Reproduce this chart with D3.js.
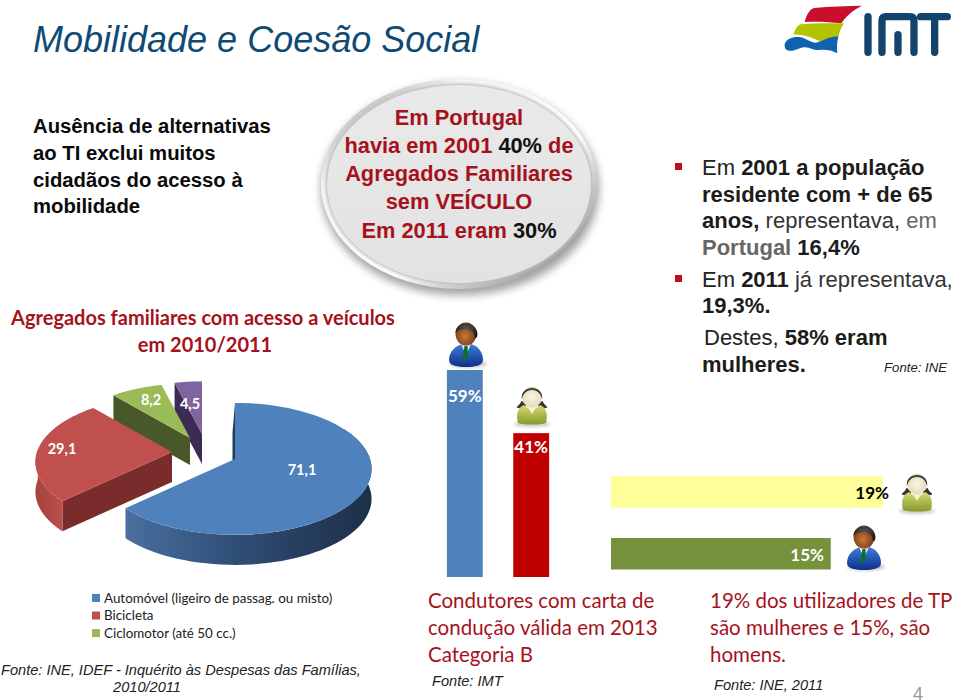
<!DOCTYPE html>
<html><head><meta charset="utf-8">
<script src="https://cdn.jsdelivr.net/npm/d3@7/dist/d3.min.js"></script>
<style>html,body{margin:0;padding:0;background:#fff}svg{display:block}text{white-space:pre}</style>
</head><body><svg id="c" width="960" height="700"></svg>
<script>
// ---- data ----
const pieCategories = ["Automóvel (ligeiro de passag. ou misto)", "Bicicleta", "Ciclomotor (até 50 cc.)", "Outros"];
const pieValues = [71.1, 29.1, 8.2, 4.5];
const pieLabels = ["71,1", "29,1", "8,2", "4,5"];
const pieColors = ["#4f81bd", "#c0504d", "#9bbb59", "#8064a2"];
const licenceGroups = ["Homens", "Mulheres"];
const licenceValues = [59, 41];
const licenceLabels = ["59%", "41%"];
const licenceColors = ["#4f81bd", "#c00000"];
const transitGroups = ["Mulheres", "Homens"];
const transitValues = [19, 15];
const transitLabels = ["19%", "15%"];
const transitColors = ["#ffff99", "#76923c"];

const FS = "'Liberation Sans',Arial,sans-serif", FC = "Lato,Carlito,sans-serif";
const RED = "#a5121c";
const svg = d3.select("#c");
const defs = svg.append("defs");
function lg(id, stops, x2 = 1, y2 = 0, x1 = 0, y1 = 0) {
  const g = defs.append("linearGradient").attr("id", id).attr("x1", x1).attr("y1", y1).attr("x2", x2).attr("y2", y2);
  stops.forEach(s => g.append("stop").attr("offset", s[0]).attr("stop-color", s[1]));
}
function rg(id, stops, cx = .5, cy = .5, r = .5) {
  const g = defs.append("radialGradient").attr("id", id).attr("cx", cx).attr("cy", cy).attr("r", r);
  stops.forEach(s => g.append("stop").attr("offset", s[0]).attr("stop-color", s[1]));
}
defs.append("filter").attr("id", "blur6").attr("x", "-20%").attr("y", "-20%").attr("width", "140%").attr("height", "140%")
  .append("feGaussianBlur").attr("stdDeviation", 4);
defs.append("filter").attr("id", "blur2").attr("x", "-30%").attr("y", "-30%").attr("width", "160%").attr("height", "160%")
  .append("feGaussianBlur").attr("stdDeviation", 1.6);
lg("blueWall", [[0, "#4a6f9e"], [.35, "#34557f"], [.7, "#263f60"], [1, "#1d3048"]]);
lg("redWall", [[0, "#a54340"], [1, "#bb4e4b"]]);
lg("ovalFill", [[0, "#e9e9e9"], [1, "#e2e2e2"]], 0, 1);
lg("ovalRim", [[0, "#8a8a8a"], [.25, "#f4f4f4"], [.6, "#ffffff"], [1, "#6d6d6d"]], 1, 1);
lg("suit", [[0, "#3f7fd6"], [1, "#0d2f8c"]], 0, 1);
lg("blouse", [[0, "#d3dc74"], [1, "#87982c"]], 0, 1);
rg("skinM", [[0, "#c9783a"], [1, "#6a3210"]], .45, .6, .6);
rg("skinF", [[0, "#fbf6e4"], [1, "#e7dcb8"]]);
rg("hair", [[0, "#555"], [1, "#111"]], .5, .3, .7);

function txt(x, y, s, o = {}) {
  return svg.append("text").attr("x", x).attr("y", y).attr("font-family", o.f || FS).attr("font-size", o.s || 20)
    .attr("font-weight", o.b ? "bold" : "normal").attr("font-style", o.i ? "italic" : "normal")
    .attr("fill", o.c || "#000").attr("text-anchor", o.a || "start").text(s);
}
function rich(x, y, parts, o = {}) {
  const t = svg.append("text").attr("x", x).attr("y", y).attr("font-family", o.f || FS).attr("font-size", o.s || 20)
    .attr("text-anchor", o.a || "start");
  parts.forEach(p => t.append("tspan").attr("font-weight", p[1] ? "bold" : "normal").attr("fill", p[2] || o.c || "#000").text(p[0]));
  return t;
}

// ---- title ----
txt(33, 52, "Mobilidade e Coesão Social", { s: 36, i: 1, c: "#0f4a73" });

// ---- logo ----
const logo = svg.append("g").attr("transform", "translate(770,0) scale(0.3333)");
logo.append("path").attr("d", "M104,66 C110,45 118,28 132,24 C180,19 230,18 276,17 C250,30 228,48 214,70 C180,66 140,64 104,66Z").attr("fill", "#c8102e");
logo.append("path").attr("d", "M70,104 C76,88 82,76 92,73 C130,69 180,69 222,70 C212,84 208,98 205,112 C190,108 170,118 150,124 C125,112 95,102 70,104Z").attr("fill", "#b5c400");
logo.append("path").attr("d", "M44,132 C50,115 72,108 92,112 C110,116 122,128 138,128 C160,124 178,108 205,110 C201,126 200,142 202,160 C185,150 165,148 148,150 C130,152 118,140 102,142 C85,144 62,162 46,146 C44,142 44,137 44,132Z").attr("fill", "#0f62ae");
const lgLetters = "M294,50V157 M336,157V62Q336,50 348,50H420Q432,50 432,62V157 M384,157V104 M452,50H532 M494,50V157";
logo.append("path").attr("d", lgLetters).attr("fill", "none").attr("stroke", "#12436d").attr("stroke-width", 22).attr("stroke-linecap", "round");

// ---- left text ----
["Ausência de alternativas", "ao TI exclui muitos", "cidadãos do acesso à", "mobilidade"].forEach((s, i) =>
  txt(33, [133, 160, 187, 213][i], s, { s: 20.3, b: 1, c: "#0a0a0a" }));
txt(203, 325, "Agregados familiares com acesso a veículos", { s: 20, b: 1, f: FC, c: RED, a: "middle" });
txt(205, 352, "em 2010/2011", { s: 20, b: 1, f: FC, c: RED, a: "middle" });

// ---- oval ----
svg.append("ellipse").attr("cx", 460).attr("cy", 189).attr("rx", 139).attr("ry", 106).attr("fill", "#555").attr("opacity", .55).attr("filter", "url(#blur6)");
svg.append("ellipse").attr("cx", 459).attr("cy", 184).attr("rx", 138).attr("ry", 105).attr("fill", "url(#ovalRim)");
svg.append("ellipse").attr("cx", 459).attr("cy", 184).attr("rx", 133.5).attr("ry", 100.5).attr("fill", "#bdbdbd").attr("filter", "url(#blur2)");
svg.append("ellipse").attr("cx", 459).attr("cy", 184).attr("rx", 132).attr("ry", 99).attr("fill", "url(#ovalFill)");
const ovalFs = 21.8;
txt(459, 125, "Em Portugal", { s: ovalFs, b: 1, c: RED, a: "middle" });
rich(459, 153, [["havia em 2001 ", 1, RED], ["40%", 1, "#111"], [" de", 1, RED]], { s: ovalFs, a: "middle" });
txt(459, 181, "Agregados Familiares", { s: ovalFs, b: 1, c: RED, a: "middle" });
txt(459, 209, "sem VEÍCULO", { s: ovalFs, b: 1, c: RED, a: "middle" });
rich(459, 238, [["Em 2011 eram ", 1, RED], ["30%", 1, "#111"]], { s: ovalFs, a: "middle" });

// ---- right text ----
const RS = 22;
const rx0 = 702;
rich(rx0, 175, [["Em ", 0, "#222"], ["2001 a população", 1, "#1c1c1c"]], { s: RS });
rich(rx0, 202, [["residente com + de 65", 1, "#1c1c1c"]], { s: RS });
rich(rx0, 228, [["anos,", 1, "#1c1c1c"], [" representava,", 0, "#333"], [" em", 0, "#666"]], { s: RS });
rich(rx0, 255, [["Portugal", 1, "#666"], [" 16,4%", 1, "#1c1c1c"]], { s: RS });
rich(rx0, 287, [["Em ", 0, "#222"], ["2011", 1, "#1c1c1c"], [" já representava,", 0, "#333"]], { s: RS });
rich(rx0, 313, [["19,3%.", 1, "#1c1c1c"]], { s: RS });
rich(704, 345, [["Destes, ", 0, "#222"], ["58% eram", 1, "#1c1c1c"]], { s: RS });
rich(rx0, 372, [["mulheres.", 1, "#1c1c1c"]], { s: RS });
txt(884, 372, "Fonte: INE", { s: 13.2, i: 1, c: "#222" });
[163, 275].forEach(y => svg.append("rect").attr("x", 675).attr("y", y).attr("width", 7).attr("height", 7).attr("fill", "#c00d1e"));

// ---- pie ----
const deg = Math.PI / 180;
const pieLayout = d3.pie().sort(null).startAngle(0).endAngle(2 * Math.PI).value(d => d)(pieValues);
const K = 0.15, RX = 135, RY = 64.5;
function project(a, r = 1) {
  const u = Math.sin(a) * r, v = -Math.cos(a) * r, w = 1 - K * v;
  return [RX * u / w, RY * v / w];
}
const hubs = [[235, 459, 1, 30], [172, 452, 1, 30], [190, 438, .97, 27], [202, 434, .93, 30]];
const wallEnd = [[60, 226.7], [226.7, 272], null, null];
const pieG = svg.append("g");
function pt(i, a, dz = 0) {
  const h = hubs[i], p = project(a, h[2]);
  return [h[0] + p[0], h[1] + p[1] + dz];
}
const line = d3.line();
const dark = ["#1f3b5e", "#792c2b", "#49582a", "#3c2c55"];
// paint order: back small slices first, so the nearer ones cover their side walls
[3, 2, 0, 1].forEach(i => {
  const d = pieLayout[i], h = hubs[i], dep = h[3];
  const a0 = d.startAngle, a1 = d.endAngle;
  const steps = d3.range(0, 61).map(k => a0 + (a1 - a0) * k / 60);
  // start-edge wall
  const shiftX = i === 0 ? -2.5 : 0;
  const outerA = pt(i, a0), tip = [h[0], h[1]];
  pieG.append("path").attr("fill", dark[i]).attr("d", line([
    tip, outerA, [outerA[0] + shiftX, outerA[1] + dep], [tip[0] + shiftX, tip[1] + dep]
  ]) + "Z");
  // outer wall
  if (wallEnd[i]) {
    const w0 = wallEnd[i][0] * deg, w1 = wallEnd[i][1] * deg;
    const ws = d3.range(0, 61).map(k => w0 + (w1 - w0) * k / 60);
    pieG.append("path").attr("fill", i === 0 ? "url(#blueWall)" : "url(#redWall)")
      .attr("d", line(ws.map(a => pt(i, a)).concat(ws.slice().reverse().map(a => pt(i, a, dep)))) + "Z");
  }
  // top face
  pieG.append("path").attr("fill", pieColors[i]).attr("d", line([tip].concat(steps.map(a => pt(i, a)))) + "Z");
});
[[302, 475], [62, 454], [151, 405], [190, 409]].forEach((p, i) =>
  txt(p[0], p[1], pieLabels[i], { s: 14.5, b: 1, f: FC, c: "#fff", a: "middle" }));

// ---- pie legend (three entries in the picture) ----
pieCategories.slice(0, 3).forEach((s, i) => {
  const y = [598, 615.5, 633][i];
  svg.append("rect").attr("x", 92).attr("y", y - 4).attr("width", 8).attr("height", 8).attr("fill", pieColors[i]);
  txt(104, y + 4.5, s, { s: 13.4, f: FC, c: "#222" });
});
txt(1, 675, "Fonte: INE, IDEF - Inquérito às Despesas das Famílias,", { s: 14.6, i: 1, c: "#222" });
txt(147, 692, "2010/2011", { s: 14.6, i: 1, c: "#222", a: "middle" });

// ---- vertical bars ----
const yV = d3.scaleLinear().domain([0, 59]).range([577, 370]);
const xV = d3.scaleBand().domain(licenceGroups).range([419, 577]).paddingInner(.46).paddingOuter(.42);
licenceGroups.forEach((g, i) => {
  svg.append("rect").attr("x", xV(g)).attr("y", yV(licenceValues[i])).attr("width", xV.bandwidth())
    .attr("height", yV(0) - yV(licenceValues[i])).attr("fill", licenceColors[i]);
  txt(xV(g) + xV.bandwidth() / 2, yV(licenceValues[i]) + 32 - i * 12, licenceLabels[i], { s: 17, b: 1, f: FC, c: "#fff", a: "middle" });
});

// ---- horizontal bars ----
const xH = d3.scaleLinear().domain([0, 19]).range([611, 883]);
const yH = d3.scaleBand().domain(transitGroups).range([476, 570]).paddingInner(.96);
transitGroups.forEach((g, i) => {
  const yy = [476, 538][i];
  svg.append("rect").attr("x", xH(0)).attr("y", yy).attr("width", xH(transitValues[i]) - xH(0) + [0, 5][i])
    .attr("height", 31.5).attr("fill", transitColors[i]);
  txt([889, 824][i], yy + 23, transitLabels[i], { s: 17, b: 1, f: FC, c: i ? "#fff" : "#000", a: "end" });
});

// ---- people icons ----
function man(cx, cy) {
  const g = svg.append("g").attr("transform", `translate(${cx},${cy})`);
  g.append("ellipse").attr("cx", 2).attr("cy", 15).attr("rx", 19).attr("ry", 4).attr("fill", "#999").attr("opacity", .5).attr("filter", "url(#blur2)");
  g.append("path").attr("d", "M-17,11 C-17,2 -10,-3 -4,-5 L5,-5 C12,-3 17,3 17,11 C17,17 8,18 0,18 C-8,18 -17,17 -17,11Z").attr("fill", "url(#suit)");
  g.append("path").attr("d", "M-5,-5 L5,-5 L0,6Z").attr("fill", "#eef");
  g.append("path").attr("d", "M-1.5,-3 L1.5,-3 L2,7 L-3,14 L-3,6Z").attr("fill", "#0f6b33");
  g.append("ellipse").attr("cx", 0).attr("cy", -15).attr("rx", 10.5).attr("ry", 11.5).attr("fill", "url(#skinM)");
  g.append("path").attr("d", "M-10.5,-16 C-11,-28 11,-29 11.5,-15 C11,-11 10,-10 9,-11 C9,-17 5,-20 -1,-20 C-6,-20 -9,-18 -10.5,-16Z").attr("fill", "url(#hair)");
}
function woman(cx, cy) {
  const g = svg.append("g").attr("transform", `translate(${cx},${cy})`);
  g.append("ellipse").attr("cx", 0).attr("cy", 16).attr("rx", 18).attr("ry", 3).attr("fill", "#999").attr("opacity", .5).attr("filter", "url(#blur2)");
  g.append("path").attr("d", "M-10,-7 C-12,-3 -15,-1 -15,-1 C-11,1 -8,-1 -6,-3 M10,-7 C12,-3 15,-1 15,-1 C11,1 8,-1 6,-3").attr("fill", "#333").attr("stroke", "#333");
  g.append("path").attr("d", "M-14,15 C-16,7 -15,0 -8,-3 L0,3 L8,-3 C15,0 16,7 14,15 C8,17 -8,17 -14,15Z").attr("fill", "url(#blouse)");
  g.append("path").attr("d", "M-6,-4 L6,-4 L0,6Z").attr("fill", "#f6f0d8");
  g.append("ellipse").attr("cx", 0).attr("cy", -11).attr("rx", 9.5).attr("ry", 10.5).attr("fill", "url(#skinF)");
  g.append("path").attr("d", "M-10,-8 C-13,-24 13,-24 10,-8 C10,-14 5,-18 0,-18 C-5,-18 -10,-14 -10,-8Z").attr("fill", "url(#hair)");
}
man(466, 349);
woman(532, 408);
woman(917, 495);
man(864, 552);

// ---- bottom text ----
["Condutores com carta de", "condução válida em 2013", "Categoria B"].forEach((s, i) =>
  txt(428, 608 + i * 27, s, { s: 20.5, f: FC, c: RED }));
txt(432, 686, "Fonte: IMT", { s: 14.6, i: 1, c: "#222" });
["19% dos utilizadores de TP", "são mulheres e 15%, são", "homens."].forEach((s, i) =>
  txt(710, 608 + i * 27, s, { s: 20.5, f: FC, c: RED }));
txt(714, 690, "Fonte: INE, 2011", { s: 14.6, i: 1, c: "#222" });
txt(913, 700, "4", { s: 18, c: "#9a9a9a" });
</script></body></html>
